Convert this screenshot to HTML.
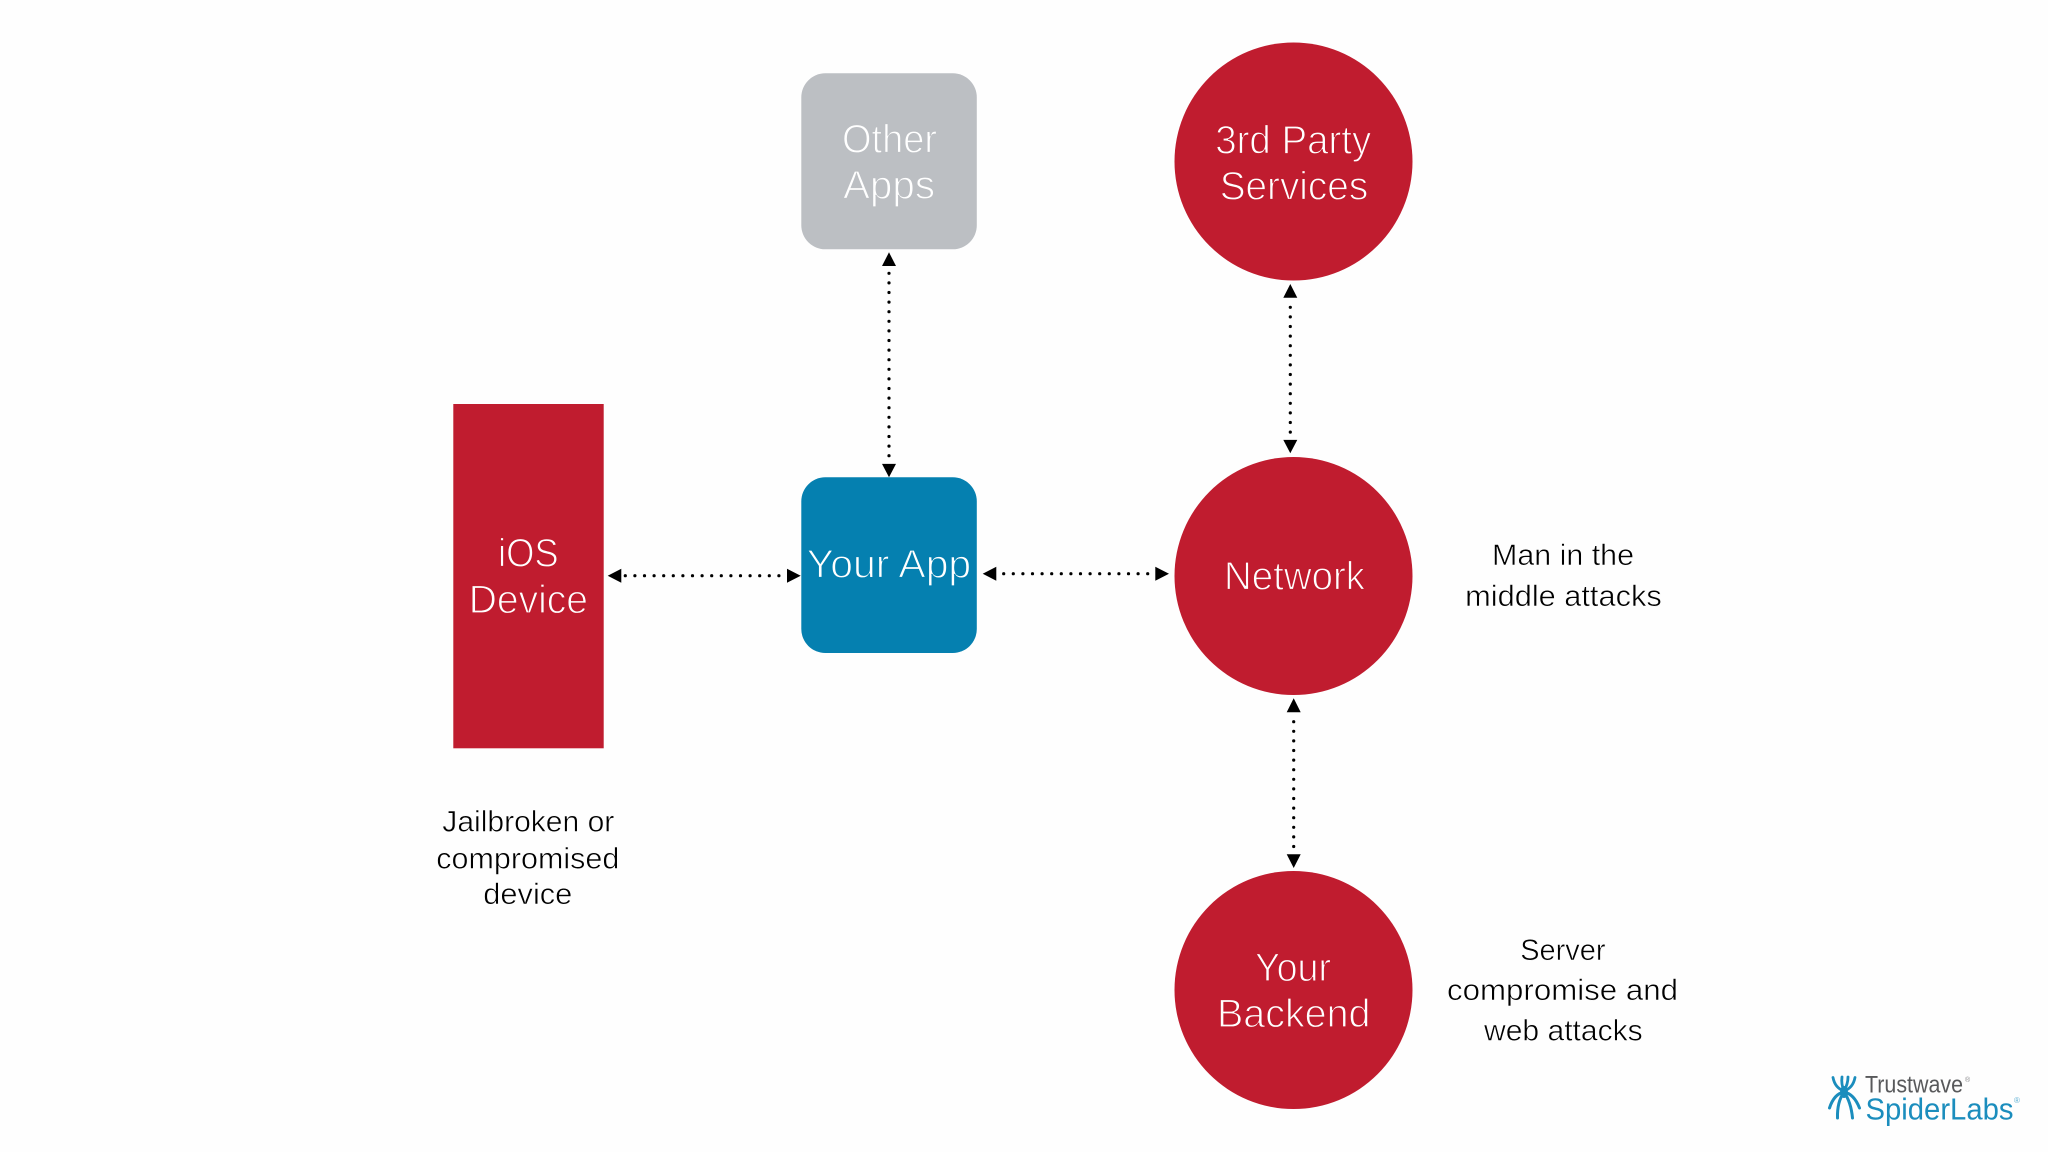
<!DOCTYPE html>
<html lang="en">
<head>
<meta charset="utf-8">
<title>iOS App Attack Surface Diagram</title>
<style>
html,body{margin:0;padding:0;background:#fff;width:2048px;height:1152px;overflow:hidden}
svg{display:block}
text{font-family:"Liberation Sans",Arial,sans-serif}
.w{fill:#fff;font-size:40px;stroke-width:1.15px}
.r{stroke:#c01c2f}
.b{stroke:#0580b0}
.g{stroke:#bcbfc3}
.k{fill:#000;font-size:30px;stroke:#fefefe;stroke-width:.55px}
.d{fill:none;stroke:#000;stroke-width:3.2;stroke-linecap:round;stroke-dasharray:0 9.6}
.l{fill:none;stroke:#1b8dbd;stroke-linecap:round}
</style>
</head>
<body>
<svg width="2048" height="1152" viewBox="0 0 2048 1152" xmlns="http://www.w3.org/2000/svg">
<rect width="2048" height="1152" fill="#fefefe"/>

<!-- Nodes -->
<rect x="453.3" y="404" width="150.4" height="344.3" fill="#c01c2f"/>
<rect x="801.3" y="73.3" width="175.5" height="176" rx="24" fill="#bcbfc3"/>
<rect x="801.3" y="477.3" width="175.5" height="175.7" rx="24" fill="#0580b0"/>
<circle cx="1293.5" cy="161.5" r="119" fill="#c01c2f"/>
<circle cx="1293.5" cy="576" r="119" fill="#c01c2f"/>
<circle cx="1293.5" cy="990" r="119" fill="#c01c2f"/>

<!-- Connectors -->
<path class="d" d="M889 273.3V456.5"/>
<path d="M889 252.3l-7 13.7h14zM889 477.3l-7-13.4h14z"/>
<path class="d" d="M1290.3 307.3V432.5"/>
<path d="M1290.3 284l-7 13.7h14zM1290.3 453.3l-7-13.4h14z"/>
<path class="d" d="M1293.7 721.7V847"/>
<path d="M1293.7 698.3l-7 14h14zM1293.7 868l-7-13.7h14z"/>
<path class="d" d="M625.3 575.7H780.5"/>
<path d="M607.7 575.7l13.6-7v14zM800.7 575.7l-13.7-7v14z"/>
<path class="d" d="M1003.7 573.7H1148.5"/>
<path d="M982.7 573.7l13.6-7v14zM1169 573.7l-13.7-7v14z"/>

<!-- Node labels -->
<text class="w g" x="842" y="152.3" textLength="95" lengthAdjust="spacingAndGlyphs">Other</text>
<text class="w g" x="843" y="198.5" textLength="92" lengthAdjust="spacingAndGlyphs">Apps</text>
<text class="w b" x="806.7" y="577.7" textLength="164.5" lengthAdjust="spacingAndGlyphs">Your App</text>
<text class="w r" x="498" y="566.5" textLength="60.7" lengthAdjust="spacingAndGlyphs">iOS</text>
<text class="w r" x="468.7" y="613" textLength="119.3" lengthAdjust="spacingAndGlyphs">Device</text>
<text class="w r" x="1215.2" y="153.5" textLength="156" lengthAdjust="spacingAndGlyphs">3rd Party</text>
<text class="w r" x="1219.7" y="199.3" textLength="148.5" lengthAdjust="spacingAndGlyphs">Services</text>
<text class="w r" x="1224" y="589.5" textLength="141" lengthAdjust="spacingAndGlyphs">Network</text>
<text class="w r" x="1255" y="981.2" textLength="76" lengthAdjust="spacingAndGlyphs">Your</text>
<text class="w r" x="1217" y="1027" textLength="153.5" lengthAdjust="spacingAndGlyphs">Backend</text>

<!-- Annotations -->
<text class="k" x="442.3" y="831.7" textLength="172" lengthAdjust="spacingAndGlyphs">Jailbroken or</text>
<text class="k" x="436.3" y="868.3" textLength="183" lengthAdjust="spacingAndGlyphs">compromised</text>
<text class="k" x="483.3" y="904" textLength="89" lengthAdjust="spacingAndGlyphs">device</text>
<text class="k" x="1492" y="565" textLength="142" lengthAdjust="spacingAndGlyphs">Man in the</text>
<text class="k" x="1465.2" y="606" textLength="196.5" lengthAdjust="spacingAndGlyphs">middle attacks</text>
<text class="k" x="1520.2" y="960" textLength="85.3" lengthAdjust="spacingAndGlyphs">Server</text>
<text class="k" x="1447" y="1000" textLength="231" lengthAdjust="spacingAndGlyphs">compromise and</text>
<text class="k" x="1484" y="1040.7" textLength="158.7" lengthAdjust="spacingAndGlyphs">web attacks</text>

<!-- Logo -->
<g>
<ellipse cx="1844" cy="1092" rx="4" ry="6" fill="#1b8dbd"/>
<path class="l" stroke-width="2.8" d="M1844 1091Q1835 1088 1833 1077.5"/>
<path class="l" stroke-width="2.8" d="M1844 1091Q1841 1084 1842 1077"/>
<path class="l" stroke-width="2.8" d="M1844 1091Q1848 1084 1848 1077"/>
<path class="l" stroke-width="2.8" d="M1844 1091Q1853 1088 1855 1077.5"/>
<path class="l" stroke-width="3" d="M1844 1092Q1834 1094 1829.5 1108"/>
<path class="l" stroke-width="3" d="M1844 1092Q1837 1102 1837.5 1118"/>
<path class="l" stroke-width="3" d="M1844 1092Q1851 1102 1852.5 1118"/>
<path class="l" stroke-width="3" d="M1844 1092Q1854 1094 1859.5 1108"/>
<text x="1865" y="1092.7" font-size="24" fill="#58595b" textLength="98" lengthAdjust="spacingAndGlyphs">Trustwave</text>
<text x="1965" y="1082" font-size="7" fill="#8a8a8c">®</text>
<text x="1865.5" y="1119.5" font-size="31" fill="#1b8dbd" textLength="148" lengthAdjust="spacingAndGlyphs">SpiderLabs</text>
<text x="2014" y="1103" font-size="8" fill="#5fb0d3">®</text>
</g>
</svg>
</body>
</html>
